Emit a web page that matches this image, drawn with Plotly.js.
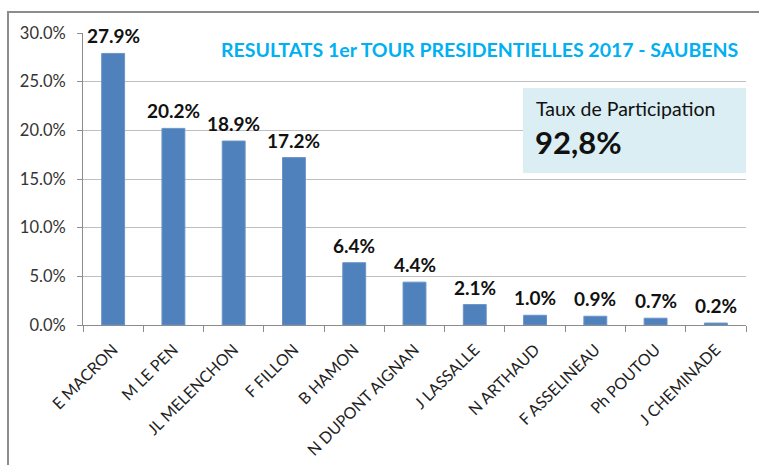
<!DOCTYPE html>
<html>
<head>
<meta charset="utf-8">
<script src="https://cdn.plot.ly/plotly-3.0.1.min.js"></script>
<style>
html,body{margin:0;padding:0;background:#fff;}
#chart{width:759px;height:465px;}
</style>
</head>
<body>
<div id="chart"></div>
<script>
const candidates = ["E MACRON","M LE PEN","JL MELENCHON","F FILLON","B HAMON","N DUPONT AIGNAN","J LASSALLE","N ARTHAUD","F ASSELINEAU","Ph POUTOU","J CHEMINADE"];
const scores = [27.9, 20.2, 18.9, 17.2, 6.4, 4.4, 2.1, 1.0, 0.9, 0.7, 0.2];
const chartTitle = "RESULTATS 1er TOUR PRESIDENTIELLES 2017 - SAUBENS";
const participationLabel = "Taux de Participation";
const participationValue = "92,8%";

const FONT = "Lato, 'Open Sans', sans-serif";

const trace = {
  type: "bar",
  x: candidates,
  y: scores,
  marker: {color: "#4F81BD", line: {color: "#6a94c8", width: 1}},
  hoverinfo: "none"
};

const annotations = candidates.map((c, i) => ({
  x: c, y: scores[i], xref: "x", yref: "y",
  text: scores[i].toFixed(1) + "%",
  showarrow: false, yanchor: "bottom", xanchor: "center", yshift: 4,
  font: {family: FONT, size: 19, color: "#111", weight: "bold"}
}));

annotations.push({
  xref: "paper", yref: "paper", x: 0.991, y: 0.945,
  xanchor: "right", yanchor: "middle", showarrow: false,
  text: "<b>" + chartTitle + "</b>",
  font: {family: FONT, size: 19.5, color: "#00B0F0"}
});
annotations.push({
  xref: "paper", yref: "paper", x: 0.68, y: 0.743,
  xanchor: "left", yanchor: "middle", showarrow: false,
  text: participationLabel,
  font: {family: FONT, size: 19.5, color: "#111"}
});
annotations.push({
  xref: "paper", yref: "paper", x: 0.678, y: 0.628,
  xanchor: "left", yanchor: "middle", showarrow: false,
  text: "<b>" + participationValue + "</b>",
  font: {family: FONT, size: 31, color: "#111"}
});

const layout = {
  width: 759, height: 465,
  margin: {l: 83, r: 13, t: 33, b: 140},
  paper_bgcolor: "#fff", plot_bgcolor: "#fff",
  showlegend: false,
  bargap: 0.62,
  font: {family: FONT, color: "#333"},
  xaxis: {
    type: "category",
    tickangle: -45,
    tickfont: {family: FONT, size: 16, color: "#222"},
    showline: true, linecolor: "#8c8c8c", linewidth: 1,
    ticks: "outside", tickson: "boundaries", ticklen: 6, tickcolor: "#8c8c8c",
    ticklabelstandoff: 8,
    showgrid: false, fixedrange: true
  },
  yaxis: {
    range: [0, 30], dtick: 5, tick0: 0,
    tickformat: ".1f", ticksuffix: "%",
    tickfont: {family: FONT, size: 16.5, color: "#333"},
    showline: true, linecolor: "#8c8c8c", linewidth: 1,
    ticks: "outside", ticklen: 5, tickcolor: "#8c8c8c",
    ticklabelstandoff: 8,
    showgrid: true, gridcolor: "#bfbfbf", gridwidth: 1,
    zeroline: false, fixedrange: true
  },
  shapes: [
    {type: "rect", xref: "paper", yref: "paper",
     x0: 0.6637, x1: 1.0, y0: 0.5205, y1: 0.8116,
     fillcolor: "#DAEEF3", line: {width: 0}, layer: "above"},
    {type: "rect", xref: "paper", yref: "paper",
     x0: -0.1131, x1: 1.05, y0: -0.6, y1: 1.0719,
     fillcolor: "rgba(0,0,0,0)", line: {color: "#8c8c8c", width: 2}, layer: "above"}
  ],
  annotations: annotations
};

Plotly.newPlot("chart", [trace], layout, {displayModeBar: false, staticPlot: true});
</script>
</body>
</html>
